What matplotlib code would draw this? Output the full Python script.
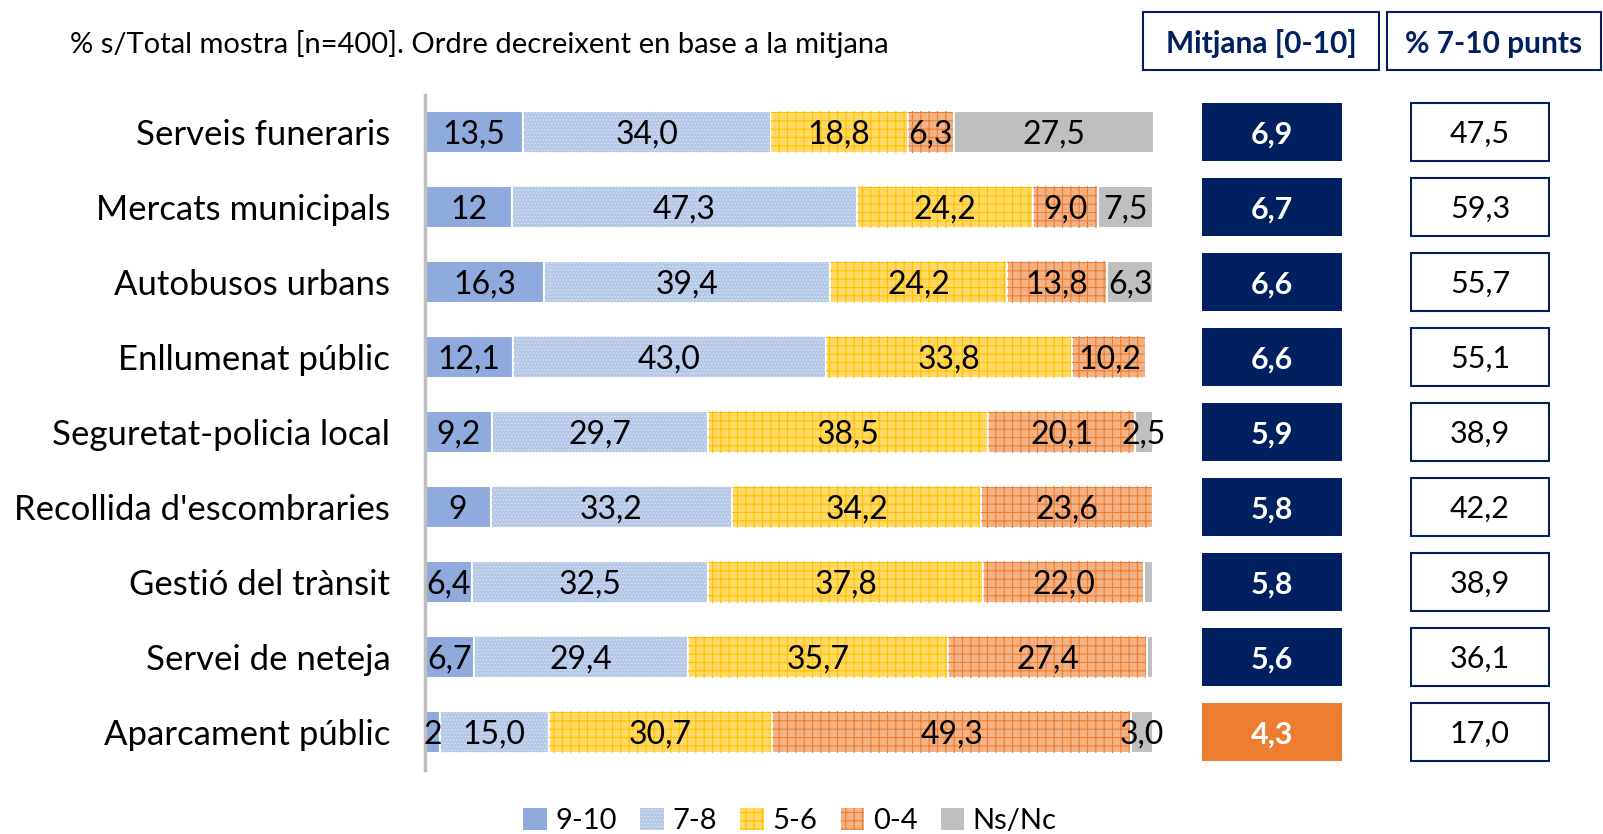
import matplotlib
matplotlib.use('Agg')
from matplotlib import pyplot as plt
from matplotlib.patches import Patch, Rectangle

plt.rcParams['font.family'] = ['Lato', 'DejaVu Sans']
plt.rcParams['hatch.linewidth'] = 0.8

categories = ['Serveis funeraris', 'Mercats municipals', 'Autobusos urbans',
              'Enllumenat públic', 'Seguretat-policia local',
              "Recollida d'escombraries", 'Gestió del trànsit',
              'Servei de neteja', 'Aparcament públic']
v_9_10 = [13.5, 12, 16.3, 12.1, 9.2, 9, 6.4, 6.7, 2]
v_7_8 = [34.0, 47.3, 39.4, 43.0, 29.7, 33.2, 32.5, 29.4, 15.0]
v_5_6 = [18.8, 24.2, 24.2, 33.8, 38.5, 34.2, 37.8, 35.7, 30.7]
v_0_4 = [6.3, 9.0, 13.8, 10.2, 20.1, 23.6, 22.0, 27.4, 49.3]
v_nsnc = [27.5, 7.5, 6.3, 0.0, 2.5, 0.0, 1.3, 0.8, 3.0]
mitjana = [6.9, 6.7, 6.6, 6.6, 5.9, 5.8, 5.8, 5.6, 4.3]
pct_7_10 = [47.5, 59.3, 55.7, 55.1, 38.9, 42.2, 38.9, 36.1, 17.0]

series_names = ['9-10', '7-8', '5-6', '0-4', 'Ns/Nc']
series_vals = [v_9_10, v_7_8, v_5_6, v_0_4, v_nsnc]
face_colors = ['#8FAADC', '#B4C7E7', '#FFD966', '#F4B183', '#BFBFBF']
hatch_colors = ['#8FAADC', '#D6E0F2', '#FFC000', '#ED7D31', '#BFBFBF']
hatches = [None, '.....', '++', '++', None]

NAVY = '#002060'
W, H = 1603, 834
fig = plt.figure(figsize=(W / 100, H / 100), dpi=100)


def fig_box(x0, y0, x1, y1):
    # pixel coords from top-left -> figure fraction [left, bottom, width, height]
    return [x0 / W, 1 - y1 / H, (x1 - x0) / W, (y1 - y0) / H]


def fmt(v):
    if isinstance(v, int):
        return str(v)
    return f'{v:.1f}'.replace('.', ',')


ypos = list(range(len(categories)))

# stacked bars
ax = fig.add_axes(fig_box(425, 94.5, 1153, 769.5))
left = [0] * len(categories)
for name, vals, fc, hc, hat in zip(series_names, series_vals, face_colors, hatch_colors, hatches):
    ax.barh(ypos, vals, left=left, height=0.56, color=fc, edgecolor='white', linewidth=1.5)
    if hat:
        ax.barh(ypos, vals, left=left, height=0.56, fill=False, edgecolor=hc,
                hatch=hat, linewidth=0)
    for i, v in enumerate(vals):
        if v >= 2:
            ax.text(left[i] + v / 2, i + 0.04, fmt(v), ha='center', va='center',
                    fontsize=23, color='black')
    left = [l + v for l, v in zip(left, vals)]

ax.set_xlim(0, 100)
ax.set_ylim(len(categories) - 0.5, -0.5)
ax.set_yticks(ypos)
ax.set_yticklabels(categories, fontsize=25)
ax.tick_params(axis='y', length=0, pad=25)
ax.set_xticks([])
for s in ['top', 'right', 'bottom']:
    ax.spines[s].set_visible(False)
ax.spines['left'].set_color('#BFBFBF')
ax.spines['left'].set_linewidth(2.5)

# mean column
ax2 = fig.add_axes(fig_box(1202, 94.5, 1342, 769.5))
mean_colors = [NAVY if m >= 5 else '#ED7D31' for m in mitjana]
ax2.barh(ypos, [1] * len(ypos), height=0.78, color=mean_colors)
for i, m in enumerate(mitjana):
    ax2.text(0.5, i + 0.03, fmt(m), ha='center', va='center', fontsize=22,
             color='white', fontweight='bold')
ax2.set_xlim(0, 1)
ax2.set_ylim(len(categories) - 0.5, -0.5)
ax2.axis('off')

# % 7-10 column
ax3 = fig.add_axes(fig_box(1410, 94.5, 1550, 769.5))
ax3.barh(ypos, [1] * len(ypos), height=0.78, color='white', edgecolor=NAVY, linewidth=1.5)
for i, p in enumerate(pct_7_10):
    ax3.text(0.5, i + 0.03, fmt(p), ha='center', va='center', fontsize=22, color='black')
ax3.set_xlim(-0.01, 1.01)
ax3.set_ylim(len(categories) - 0.5, -0.5)
ax3.axis('off')

# header boxes
for (x0, x1), label in [((1143, 1379), 'Mitjana [0-10]'), ((1387, 1601), '% 7-10 punts')]:
    b = fig_box(x0, 12, x1, 70)
    fig.add_artist(Rectangle((b[0], b[1]), b[2], b[3], transform=fig.transFigure,
                             facecolor='white', edgecolor=NAVY, linewidth=1.5))
    fig.text(b[0] + b[2] / 2, b[1] + b[3] / 2 - 3 / H, label, ha='center', va='center',
             fontsize=21.5, fontweight='bold', color=NAVY)

fig.text(70 / W, 1 - 44 / H, '% s/Total mostra [n=400]. Ordre decreixent en base a la mitjana',
         ha='left', va='center', fontsize=21, color='black')

handles = [Patch(facecolor=fc, edgecolor=hc, hatch=hat, linewidth=0)
           for fc, hc, hat in zip(face_colors, hatch_colors, hatches)]
fig.legend(handles, series_names, loc='center', bbox_to_anchor=(790 / W, 1 - 821 / H),
           ncol=5, frameon=False, fontsize=21, handlelength=0.8, handleheight=0.8,
           handletextpad=0.3, columnspacing=0.8)

fig.savefig('out.png', dpi=100)
